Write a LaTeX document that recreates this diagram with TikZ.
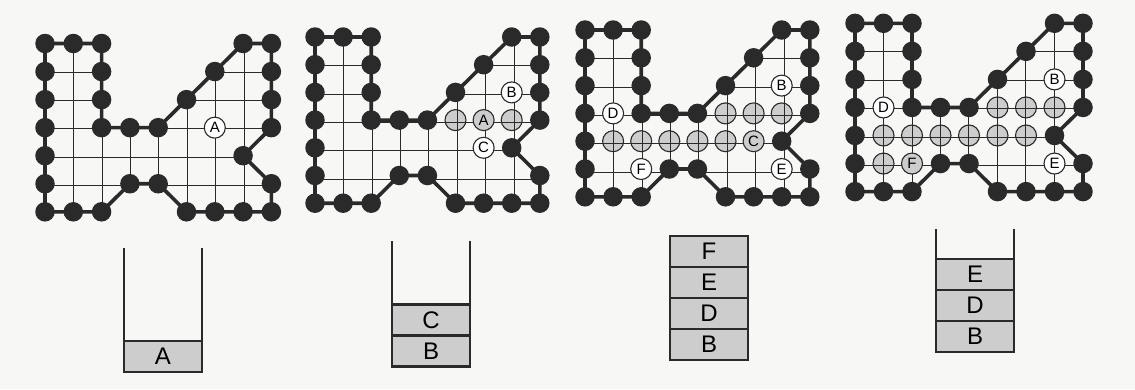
\documentclass[tikz,border=0pt]{standalone}
\usepackage{fontspec}
\setmainfont{Liberation Sans}
\definecolor{bg}{HTML}{F7F7F5}
\definecolor{cellgray}{HTML}{CDCDCD}
\definecolor{ink}{HTML}{2A2A2A}
\newcommand\outlinepath{(0,0) -- (1,0) -- (2,0) -- (2,1) -- (2,2) -- (2,3) -- (3,3) -- (4,3) -- (5,2) -- (6,1) -- (7,0) -- (8,0) -- (8,1) -- (8,2) -- (8,3) -- (7,4) -- (8,5) -- (8,6) -- (7,6) -- (6,6) -- (5,6) -- (4,5) -- (3,5) -- (2,6) -- (1,6) -- (0,6) -- (0,5) -- (0,4) -- (0,3) -- (0,2) -- (0,1) -- cycle}
\newcommand\dotlist{0/0,1/0,2/0,2/1,2/2,2/3,3/3,4/3,5/2,6/1,7/0,8/0,8/1,8/2,8/3,7/4,8/5,8/6,7/6,6/6,5/6,4/5,3/5,2/6,1/6,0/6,0/5,0/4,0/3,0/2,0/1}
\tikzset{
  border/.style={line width=3.6pt, draw=ink, line join=round},
  gridline/.style={line width=0.8pt, draw=ink},
  bdot/.style={circle, fill=ink, minimum size=19.5pt, inner sep=0pt},
  wlabel/.style={circle, draw=ink, line width=1.1pt, fill=white, minimum size=21pt, inner sep=0pt, font=\fontsize{15}{15}\selectfont},
  glabel/.style={wlabel, fill=cellgray},
  gcirc/.style={circle, draw=ink, line width=1.1pt, fill=cellgray, minimum size=21pt, inner sep=0pt},
  wall/.style={line width=2.4pt, draw=ink, line join=miter},
  cell/.style={draw=ink, line width=2.4pt, fill=cellgray, minimum width=78pt, minimum height=31pt, inner sep=0pt, font=\fontsize{24}{24}\selectfont}
}
\begin{document}
\begin{tikzpicture}[x=1pt,y=-1pt]
\fill[bg] (0,0) rectangle (1135,389);
\useasboundingbox (0,0) rectangle (1135,389);

% ---------- Panel 1 ----------
\begin{scope}[shift={(45,43.5)},x=28.3pt,y=-28.05pt]
  \begin{scope}\clip \outlinepath; \draw[gridline] (0,0) grid (8,6);\end{scope}
  \node[wlabel] (a-A) at (6,3) {A};
  \draw[border] \outlinepath;
  \foreach \c/\r in \dotlist {\node[bdot] (a\c\r) at (\c,\r) {};}
\end{scope}

% ---------- Panel 2 ----------
\begin{scope}[shift={(315,37)},x=28.1pt,y=-27.7pt]
  \foreach \c/\r in {5/3,7/3} {\node[gcirc] (bg\c\r) at (\c,\r) {};}
  \begin{scope}\clip \outlinepath; \draw[gridline] (0,0) grid (8,6);\end{scope}
  \node[glabel] (b-A) at (6,3) {A};
  \node[wlabel] (b-B) at (7,2) {B};
  \node[wlabel] (b-C) at (6,4) {C};
  \draw[border] \outlinepath;
  \foreach \c/\r in \dotlist {\node[bdot] (b\c\r) at (\c,\r) {};}
\end{scope}

% ---------- Panel 3 ----------
\begin{scope}[shift={(585,30)},x=28.1pt,y=-27.8pt]
  \foreach \c/\r in {5/3,6/3,7/3,1/4,2/4,3/4,4/4,5/4} {\node[gcirc] (cg\c\r) at (\c,\r) {};}
  \begin{scope}\clip \outlinepath; \draw[gridline] (0,0) grid (8,6);\end{scope}
  \node[glabel] (c-C) at (6,4) {C};
  \node[wlabel] (c-B) at (7,2) {B};
  \node[wlabel] (c-D) at (1,3) {D};
  \node[wlabel] (c-F) at (2,5) {F};
  \node[wlabel] (c-E) at (7,5) {E};
  \draw[border] \outlinepath;
  \foreach \c/\r in \dotlist {\node[bdot] (c\c\r) at (\c,\r) {};}
\end{scope}

% ---------- Panel 4 ----------
\begin{scope}[shift={(855,23.3)},x=28.5pt,y=-28.05pt]
  \foreach \c/\r in {5/3,6/3,7/3,1/4,2/4,3/4,4/4,5/4,6/4,1/5} {\node[gcirc] (dg\c\r) at (\c,\r) {};}
  \begin{scope}\clip \outlinepath; \draw[gridline] (0,0) grid (8,6);\end{scope}
  \node[glabel] (d-F) at (2,5) {F};
  \node[wlabel] (d-B) at (7,2) {B};
  \node[wlabel] (d-D) at (1,3) {D};
  \node[wlabel] (d-E) at (7,5) {E};
  \draw[border] \outlinepath;
  \foreach \c/\r in \dotlist {\node[bdot] (d\c\r) at (\c,\r) {};}
\end{scope}

% ---------- Stacks ----------
% stack 1
\node[cell] (s1a) at (163,356.5) {A};
\draw[wall] (124,248) -- (124,372) -- (202,372) -- (202,248);
% stack 2
\node[cell] (s2b) at (431,351) {B};
\node[cell] (s2c) at (431,320) {C};
\draw[wall] (392,241) -- (392,366.5) -- (470,366.5) -- (470,241);
% stack 3
\node[cell] (s3b) at (709,344.5) {B};
\node[cell] (s3d) at (709,313.5) {D};
\node[cell] (s3e) at (709,282.5) {E};
\node[cell] (s3f) at (709,251.5) {F};
\draw[wall] (670,235) -- (670,360) -- (748,360) -- (748,235);
% stack 4
\node[cell] (s4b) at (975,336.5) {B};
\node[cell] (s4d) at (975,305.5) {D};
\node[cell] (s4e) at (975,274.5) {E};
\draw[wall] (936,229) -- (936,352) -- (1014,352) -- (1014,229);
\end{tikzpicture}
\end{document}
